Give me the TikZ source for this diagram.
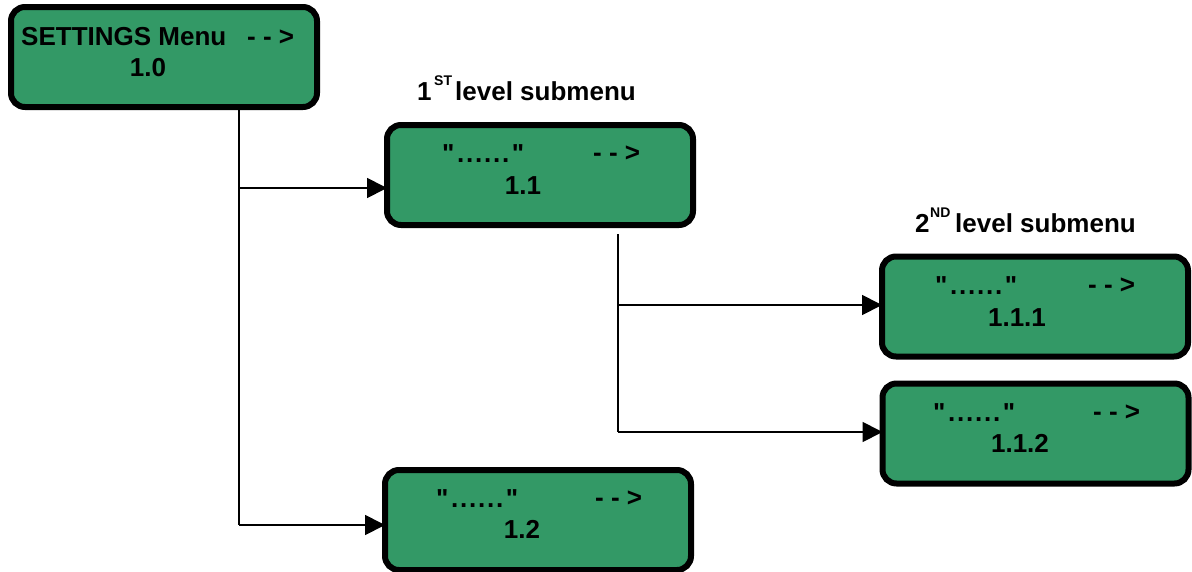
\documentclass[tikz,border=0pt]{standalone}
\usepackage{fontspec}
\setmainfont{Liberation Sans}[Ligatures=TeXOff]
\usetikzlibrary{arrows.meta}
\definecolor{boxgreen}{HTML}{339966}
\newcommand{\qdots}{"\kern2.5pt.\kern1.8pt.\kern1.8pt.\kern1.8pt.\kern1.8pt.\kern1.8pt.\kern2.5pt"}
\begin{document}
\begin{tikzpicture}[x=1pt,y=-1pt,
  menubox/.style={draw=black, line width=6pt, fill=boxgreen, rounded corners=14pt,
    minimum width=306pt, minimum height=100pt, inner sep=0pt},
  txt/.style={font=\fontsize{26}{30}\selectfont\bfseries, inner sep=0pt},
  supx/.style={font=\fontsize{14}{14}\selectfont\bfseries, inner sep=0pt},
  conn/.style={line width=1.8pt, draw=black},
  arr/.style={conn, -{Triangle[length=20pt,width=20pt]}, shorten >=-3pt}]
\useasboundingbox (0,0) rectangle (1192,571);
% boxes
\node[menubox] (b10)  at (164,57) {};
\node[menubox] (b11)  at (540,175) {};
\node[menubox] (b111) at (1035,306.5) {};
\node[menubox] (b112) at (1035.5,433.5) {};
\node[menubox] (b12)  at (538,520) {};
% texts box 1.0
\node[txt, anchor=base west] (t10a) at (21,45) {SETTINGS Menu};
\node[txt, anchor=base west] (t10b) at (247,45) {- - >};
\node[txt, anchor=base] (t10c) at (148,76) {1.0};
% box 1.1
\node[txt, anchor=base west] (t11a) at (442,162) {\qdots};
\node[txt, anchor=base west] (t11b) at (593,161) {- - >};
\node[txt, anchor=base] (t11c) at (523,194) {1.1};
% box 1.1.1
\node[txt, anchor=base west] (t111a) at (935,294) {\qdots};
\node[txt, anchor=base west] (t111b) at (1088,293) {- - >};
\node[txt, anchor=base] (t111c) at (1017,326) {1.1.1};
% box 1.1.2
\node[txt, anchor=base west] (t112a) at (933,421) {\qdots};
\node[txt, anchor=base west] (t112b) at (1093,420) {- - >};
\node[txt, anchor=base] (t112c) at (1020,452) {1.1.2};
% box 1.2
\node[txt, anchor=base west] (t12a) at (436,507) {\qdots};
\node[txt, anchor=base west] (t12b) at (595,506) {- - >};
\node[txt, anchor=base] (t12c) at (522,538) {1.2};
% titles
\node[txt, anchor=base west] (ttl1n) at (417,100) {1};
\node[supx, anchor=base west] (ttl1s) at (434,85) {ST};
\node[txt, anchor=base west] (ttl1) at (455,100) {level submenu};
\node[txt, anchor=base west] (ttl2n) at (915,232) {2};
\node[supx, anchor=base west] (ttl2s) at (930,217) {ND};
\node[txt, anchor=base west] (ttl2) at (955,232) {level submenu};
% connectors
\coordinate (j1) at (239,188);
\coordinate (j2) at (239,525);
\coordinate (k0) at (618,234);
\coordinate (k1) at (618,305);
\coordinate (k2) at (618,432);
\draw[conn] (b10.south -| j1) -- (j2);
\draw[arr] (j1) -- (j1 -| b11.west);
\draw[arr] (j2) -- (j2 -| b12.west);
\draw[conn] (k0) -- (k2);
\draw[arr] (k1) -- (k1 -| b111.west);
\draw[arr] (k2) -- (k2 -| b112.west);
\end{tikzpicture}
\end{document}
